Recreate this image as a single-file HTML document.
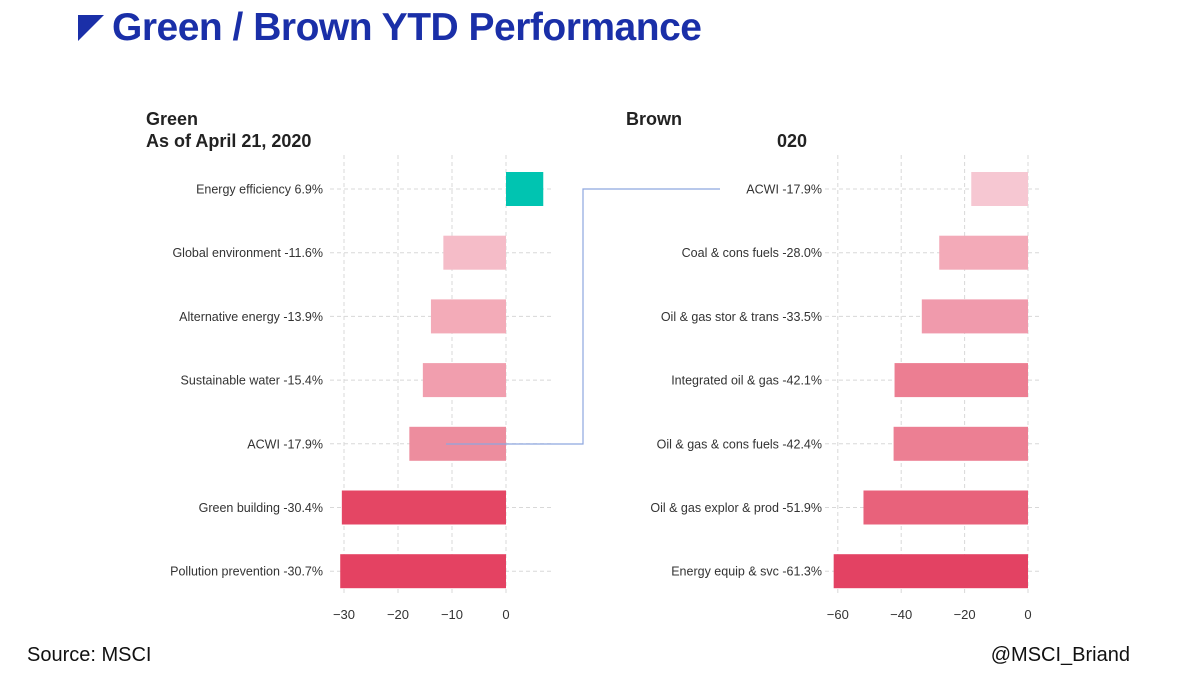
<!DOCTYPE html>
<html><head><meta charset="utf-8"><style>
body{margin:0;width:1200px;height:681px;background:#fff;overflow:hidden;font-family:"Liberation Sans",sans-serif;position:relative}
.t{position:absolute;white-space:nowrap}
</style></head><body>
<div class="t" style="left:78px;top:15px;width:0;height:0;border-top:26px solid #1a2fa8;border-right:26px solid transparent"></div>
<div class="t" style="left:112px;top:6px;font-size:39px;font-weight:bold;color:#1a2fa8;letter-spacing:-0.5px">Green / Brown YTD Performance</div>
<div class="t" style="left:146px;top:108px;font-size:18px;font-weight:bold;color:#222;line-height:22px">Green<br>As of April 21, 2020</div>
<div class="t" style="left:626px;top:108px;font-size:18px;font-weight:bold;color:#222;line-height:22px">Brown</div>
<div class="t" style="left:777px;top:130px;font-size:18px;font-weight:bold;color:#222;line-height:22px">020</div>
<div class="t" style="left:27px;top:644px;font-size:20px;color:#111">Source: MSCI</div>
<div class="t" style="right:70px;top:644px;font-size:20px;color:#111">@MSCI_Briand</div>
<svg id="c" width="1200" height="681" style="position:absolute;left:0;top:0"></svg>
<script>
const greenCats=["Energy efficiency","Global environment","Alternative energy","Sustainable water","ACWI","Green building","Pollution prevention"];
const greenVals=[6.9,-11.6,-13.9,-15.4,-17.9,-30.4,-30.7];
const greenTicks=[-30,-20,-10,0];
const brownCats=["ACWI","Coal & cons fuels","Oil & gas stor & trans","Integrated oil & gas","Oil & gas & cons fuels","Oil & gas explor & prod","Energy equip & svc"];
const brownVals=[-17.9,-28.0,-33.5,-42.1,-42.4,-51.9,-61.3];
const brownTicks=[-60,-40,-20,0];
const greenColors=["#00c4b1","#f5bcc8","#f3abb8","#f19eae","#ed8d9e","#e44664","#e44262"];
const brownColors=["#f6c7d2","#f3aab8","#f09aac","#ec7e92","#ec7f93","#e8627b","#e34263"];
const NS="http://www.w3.org/2000/svg";
const svg=document.getElementById('c');
function mk(t,a){const e=document.createElementNS(NS,t);for(const k in a)e.setAttribute(k,a[k]);svg.appendChild(e);return e;}
const y0=189,dy=63.7,bh=34;
function panel(cats,vals,ticks,colors,zeroX,scale,gx0,gx1,labelX,pfx){
  const x=v=>zeroX+v*scale;
  ticks.forEach(t=>{
    const g=mk('line',{x1:x(t),x2:x(t),y1:155,y2:596,stroke:'#d8d8d8','stroke-dasharray':'4,3'});
    
    const l=mk('text',{x:x(t),y:619,'text-anchor':'middle','font-size':13,fill:'#333','font-family':'Liberation Sans'});
    l.textContent=t===0?'0':'\u2212'+Math.abs(t);
    
  });
  cats.forEach((c,i)=>{
    const yc=y0+i*dy;
    const h=mk('line',{x1:gx0,x2:gx1,y1:yc,y2:yc,stroke:'#d8d8d8','stroke-dasharray':'4,3'});
    
    const v=vals[i];
    const r=mk('rect',{x:Math.min(x(0),x(v)),y:yc-bh/2,width:Math.abs(x(v)-x(0)),height:bh,fill:colors[i]});
    
    const l=mk('text',{x:labelX,y:yc+4.5,'text-anchor':'end','font-size':12.5,fill:'#333','font-family':'Liberation Sans'});
    l.textContent=c+' '+(v>0?'':'-')+Math.abs(v).toFixed(1)+'%';
    
  });
}
panel(greenCats,greenVals,greenTicks,greenColors,506,5.4,330,553,323,'green');
panel(brownCats,brownVals,brownTicks,brownColors,1028,3.17,825,1040,822,'brown');
const p=mk('polyline',{points:'720,189 583,189 583,444 446,444',fill:'none',stroke:'#8ea6df','stroke-width':1.2});

</script>
</body></html>
